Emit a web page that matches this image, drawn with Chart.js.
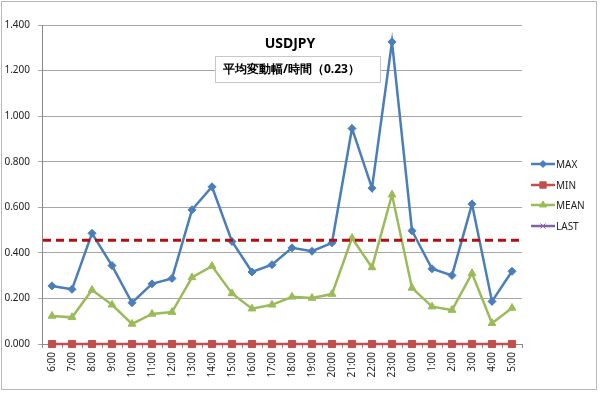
<!DOCTYPE html>
<html>
<head>
<meta charset="utf-8">
<script src="https://cdn.jsdelivr.net/npm/chart.js@4.4.0/dist/chart.umd.min.js"></script>
<style>
  html, body { margin: 0; padding: 0; background: #fff; }
  #wrap { width: 600px; height: 393px; }
</style>
</head>
<body>
<div id="wrap"><canvas id="usdjpy" width="600" height="393"></canvas></div>
<script>
// values
var hours = ['6:00','7:00','8:00','9:00','10:00','11:00','12:00','13:00','14:00','15:00','16:00','17:00',
             '18:00','19:00','20:00','21:00','22:00','23:00','0:00','1:00','2:00','3:00','4:00','5:00'];
var maxValues  = [0.255,0.240,0.486,0.344,0.181,0.264,0.288,0.589,0.690,0.450,0.316,0.348,
                  0.422,0.407,0.444,0.946,0.684,1.326,0.497,0.330,0.301,0.614,0.187,0.319];
var minValues  = [0,0,0,0,0,0,0,0,0,0,0,0,0,0,0,0,0,0,0,0,0,0,0,0];
var meanValues = [0.123,0.117,0.237,0.172,0.088,0.132,0.140,0.292,0.342,0.222,0.155,0.172,
                  0.207,0.202,0.219,0.465,0.336,0.655,0.246,0.164,0.149,0.310,0.091,0.158];
var lastValues = [];
var avgLevel = 0.455;
var yTicks = [0, 0.2, 0.4, 0.6, 0.8, 1.0, 1.2, 1.4];
var chartTitle = 'USDJPY';
var chartSubtitle = '平均変動幅/時間（0.23）';

var FONT = "'Noto Sans', 'Liberation Sans', sans-serif";

// frame + white background
var framePlugin = {
  id: 'frame',
  beforeDraw: function (chart) {
    var ctx = chart.ctx;
    ctx.save();
    ctx.fillStyle = '#fff';
    ctx.fillRect(0, 0, chart.width, chart.height);
    ctx.strokeStyle = '#b8b8b8';
    ctx.lineWidth = 1;
    ctx.strokeRect(1.5, 1.5, 595, 388);
    ctx.restore();
  }
};

// dashed average line, title box and legend
var extrasPlugin = {
  id: 'extras',
  afterDatasetsDraw: function (chart) {
    var ctx = chart.ctx, area = chart.chartArea;
    var y = chart.scales.y.getPixelForValue(avgLevel);
    ctx.save();
    ctx.strokeStyle = '#b01010';
    ctx.lineWidth = 3;
    ctx.setLineDash([8, 5]);
    ctx.beginPath();
    ctx.moveTo(area.left + 1, y);
    ctx.lineTo(area.right - 2, y);
    ctx.stroke();
    ctx.restore();
  },
  afterDraw: function (chart) {
    var ctx = chart.ctx;
    ctx.save();
    // title
    ctx.fillStyle = '#000';
    ctx.font = 'bold 14px ' + FONT;
    ctx.textAlign = 'center';
    ctx.textBaseline = 'middle';
    ctx.fillText(chartTitle, 290, 44);
    // subtitle box
    ctx.fillStyle = '#fff';
    ctx.fillRect(215, 56, 165, 26);
    ctx.strokeStyle = '#c8c8c8';
    ctx.lineWidth = 1;
    ctx.strokeRect(215.5, 56.5, 165, 26);
    ctx.fillStyle = '#000';
    ctx.font = 'bold 12px ' + FONT;
    ctx.textAlign = 'left';
    ctx.fillText(chartSubtitle, 223, 70);
    // legend
    var rowY = [164, 185, 205, 226];
    ctx.font = '10px ' + FONT;
    chart.data.datasets.forEach(function (ds, i) {
      var yy = rowY[i];
      ctx.strokeStyle = ds.borderColor;
      ctx.lineWidth = 2.5;
      ctx.setLineDash([]);
      ctx.beginPath();
      ctx.moveTo(531, yy);
      ctx.lineTo(555, yy);
      ctx.stroke();
      ctx.fillStyle = ds.pointBackgroundColor;
      ctx.strokeStyle = ds.pointBorderColor;
      ctx.lineWidth = 1;
      Chart.helpers.drawPoint(ctx, { pointStyle: ds.pointStyle, radius: ds.pointRadius - 0.5, rotation: 0, borderWidth: 1 }, 543, yy);
      ctx.fillStyle = '#222';
      ctx.textAlign = 'left';
      ctx.textBaseline = 'middle';
      ctx.fillText(ds.label, 556, yy + 1);
    });
    ctx.restore();
  }
};

function series(label, data, color, style, radius) {
  return {
    label: label,
    data: data,
    borderColor: color,
    backgroundColor: color,
    pointBackgroundColor: color,
    pointBorderColor: color,
    pointStyle: style,
    pointRadius: radius,
    pointBorderWidth: 1,
    borderWidth: 2.5,
    tension: 0,
    clip: false
  };
}

new Chart(document.getElementById('usdjpy'), {
  type: 'line',
  data: {
    labels: hours,
    datasets: [
      series('MAX', maxValues, '#4a7ebb', 'rectRot', 4),
      series('MIN', minValues, '#c0504d', 'rect', 5),
      series('MEAN', meanValues, '#9bbb59', 'triangle', 4.5),
      series('LAST', lastValues, '#8064a2', 'crossRot', 4)
    ]
  },
  options: {
    responsive: false,
    animation: false,
    layout: { padding: { left: 0, right: 78, top: 25, bottom: 0 } },
    plugins: {
      legend: { display: false },
      title: { display: false },
      tooltip: { enabled: false }
    },
    scales: {
      x: {
        type: 'category',
        offset: true,
        grid: { display: true, offset: true, drawOnChartArea: false, drawTicks: true, tickLength: 4, color: '#888' },
        border: { display: true, color: '#888' },
        ticks: {
          maxRotation: 90, minRotation: 90, autoSkip: false, padding: 4,
          color: '#222', font: { family: FONT, size: 10 }
        },
        afterFit: function (scale) { scale.height = 49; }
      },
      y: {
        min: 0, max: 1.4,
        afterBuildTicks: function (scale) { scale.ticks = yTicks.map(function (v) { return { value: v }; }); },
        grid: { color: '#a6a6a6', tickLength: 4, lineWidth: 1 },
        border: { display: true, color: '#888' },
        ticks: {
          padding: 8, color: '#222', font: { family: FONT, size: 10 },
          callback: function (v) { return Number(v).toFixed(3); }
        },
        afterFit: function (scale) { scale.width = 42; }
      }
    }
  },
  plugins: [framePlugin, extrasPlugin]
});
</script>
</body>
</html>
